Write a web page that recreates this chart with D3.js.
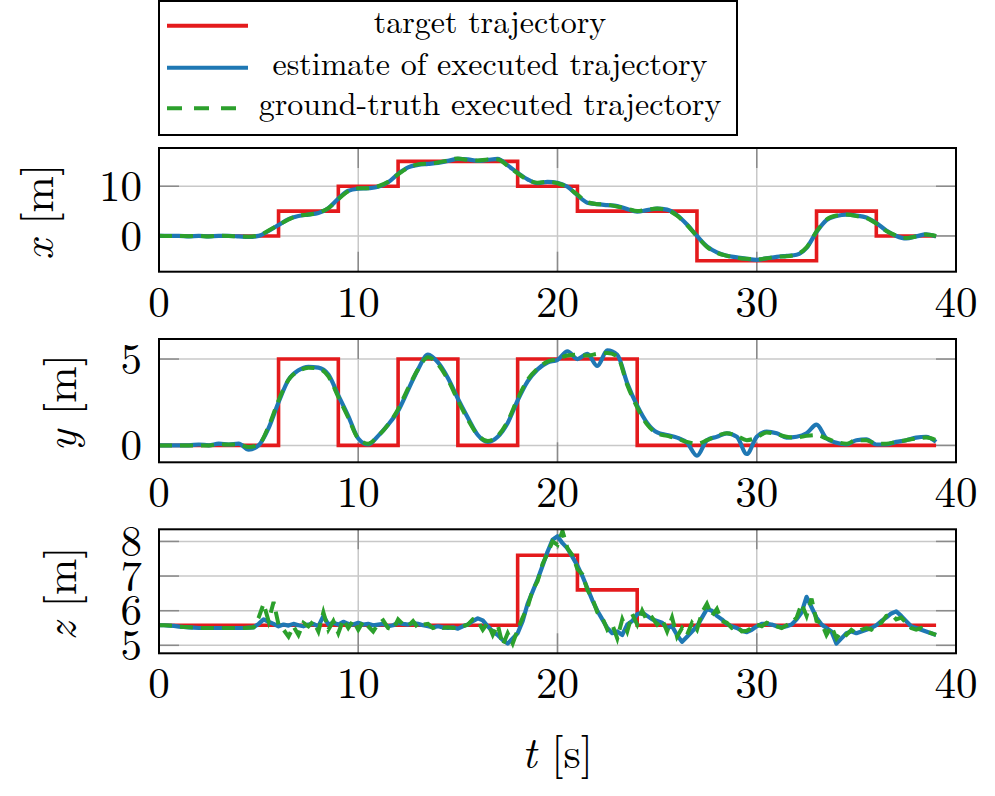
<!DOCTYPE html>
<html><head><meta charset="utf-8">
<script src="https://cdn.jsdelivr.net/npm/d3@7"></script>
<style>body{margin:0;background:#fff} svg{display:block}</style>
</head><body>
<svg id="c" width="995" height="796"></svg>
<script>
// ---------- data ----------
const timeTicks = [0, 10, 20, 30, 40];
const legendLabels = ["target trajectory", "estimate of executed trajectory", "ground-truth executed trajectory"];

// target trajectories (step changes: time, value)
const targetXTimes = [0, 6, 9, 12, 18, 21, 27, 33, 36, 39];
const targetXVals  = [0, 5, 10, 15, 10, 5, -5, 5, 0, 0];
const targetYTimes = [0, 6, 9, 12, 15, 18, 24, 39];
const targetYVals  = [0, 5, 0, 5, 0, 5, 0, 0];
const targetZTimes = [0, 18, 21, 24, 39];
const targetZVals  = [5.58, 7.6, 6.6, 5.58, 5.58];

// x, y sampled every 0.5 s from 0 to 39 s
const estX = [0,0,0,-0.1,0,-0.1,0,0,-0.1,-0.2,
  0,1.0,2.2,3.4,4.0,4.3,4.6,5.6,7.5,9.1,
  9.5,9.6,9.9,10.8,12.5,13.8,14.3,14.5,14.7,15.1,
  15.5,15.4,15.1,15.3,15.5,14.2,12.7,11.4,10.6,10.9,
  10.7,9.9,8.2,6.7,6.4,6.2,6.0,5.4,4.9,5.2,
  5.5,5.3,4.2,2.3,0.0,-2.1,-3.3,-4.0,-4.3,-4.6,
  -4.8,-4.5,-4.2,-4.0,-3.8,-2.4,0.8,3.2,4.0,4.3,
  4.1,3.7,2.6,1.1,0.0,-0.5,-0.1,0.3,-0.1];
const gtX = [0.05,0,0,-0.05,0,-0.1,0.05,0,-0.1,-0.15,
  0.1,1.1,2.2,3.3,4.1,4.3,4.7,5.6,7.4,9.0,
  9.6,9.6,10.0,10.9,12.4,13.7,14.4,14.6,14.8,15.2,
  15.6,15.3,15.2,15.4,15.4,14.1,12.6,11.3,10.7,10.9,
  10.6,9.8,8.3,6.8,6.4,6.3,5.9,5.5,5.0,5.3,
  5.5,5.2,4.1,2.2,-0.1,-2.2,-3.4,-4.0,-4.4,-4.6,
  -4.7,-4.5,-4.2,-4.1,-3.7,-2.3,0.9,3.3,4.1,4.3,
  4.0,3.6,2.5,1.0,0.1,-0.4,-0.1,0.3,0.0];

const estY = [0,0,0,0,0.05,0,0.1,0.05,0.1,-0.25,
  0.0,1.0,2.5,3.8,4.35,4.55,4.5,4.1,2.9,1.7,
  0.4,0.05,0.55,1.2,2.0,3.2,4.4,5.25,4.8,3.9,
  2.7,1.6,0.6,0.2,0.5,1.3,2.6,3.7,4.4,4.8,
  4.95,5.45,5.0,5.3,4.6,5.5,5.25,3.6,2.3,1.3,
  0.75,0.6,0.45,0.15,-0.6,0.3,0.5,0.7,0.5,-0.5,
  0.5,0.8,0.7,0.45,0.5,0.7,1.2,0.4,0.15,0.05,
  0.3,0.35,0.05,0.05,0.2,0.3,0.45,0.5,0.2];
const gtY = [0,0,0,0,0,0,0.05,0.05,0.05,-0.1,
  0.05,1.1,2.6,3.8,4.3,4.5,4.45,4.0,2.8,1.6,
  0.4,0.1,0.55,1.2,2.1,3.3,4.4,5.1,4.7,3.8,
  2.6,1.5,0.6,0.25,0.55,1.4,2.7,3.8,4.45,4.85,
  5.0,5.2,5.25,5.2,5.3,5.35,5.15,3.5,2.2,1.2,
  0.7,0.55,0.4,0.2,0.1,0.3,0.55,0.7,0.55,0.3,
  0.45,0.75,0.65,0.5,0.45,0.55,0.6,0.4,0.2,0.1,
  0.3,0.3,0.1,0.1,0.2,0.3,0.4,0.45,0.3];

// z sampled every 0.25 s from 0 to 39 s
const estZ = [5.58,5.58,5.57,5.56,5.54,5.53,5.52,5.51,5.5,5.5,5.5,5.5,5.5,5.5,5.5,5.5,5.5,5.5,5.51,5.52,
  5.62,5.75,5.68,5.62,5.55,5.6,5.57,5.62,5.58,5.55,5.6,5.62,5.55,5.85,5.6,5.65,5.6,5.68,5.62,5.6,
  5.65,5.6,5.62,5.58,5.6,5.62,5.55,5.58,5.65,5.62,5.6,5.64,5.62,5.58,5.55,5.52,5.55,5.52,5.5,5.52,
  5.48,5.55,5.6,5.7,5.78,5.72,5.55,5.4,5.3,5.15,5.05,5.2,5.35,5.7,6.2,6.55,6.9,7.3,7.7,8.05,
  8.15,7.95,7.8,7.55,7.3,7.0,6.65,6.3,6.0,5.75,5.5,5.35,5.4,5.3,5.6,5.7,5.9,5.95,5.85,5.75,
  5.7,5.65,5.5,5.55,5.3,5.1,5.25,5.4,5.55,5.8,6.05,6.0,5.85,5.75,5.62,5.55,5.5,5.42,5.38,5.45,
  5.55,5.62,5.62,5.6,5.55,5.52,5.55,5.6,5.75,5.95,6.4,6.1,5.8,5.6,5.5,5.4,5.05,5.2,5.35,5.4,
  5.35,5.4,5.45,5.5,5.58,5.7,5.8,5.92,5.98,5.85,5.7,5.55,5.5,5.45,5.4,5.35,5.3];
const gtZ = [5.58,5.58,5.57,5.56,5.54,5.53,5.52,5.51,5.5,5.5,5.5,5.5,5.5,5.5,5.5,5.5,5.5,5.5,5.51,5.52,
  5.8,6.2,5.7,6.25,5.6,5.45,5.25,5.55,5.3,5.65,5.55,5.7,5.4,5.95,5.45,5.7,5.35,5.75,5.5,5.72,
  5.45,5.7,5.55,5.4,5.62,5.72,5.5,5.45,5.75,5.6,5.55,5.7,5.5,5.6,5.62,5.5,5.55,5.5,5.52,5.5,
  5.5,5.55,5.6,5.75,5.7,5.45,5.65,5.3,5.6,5.0,5.35,5.05,5.45,5.8,6.1,6.6,6.85,7.35,7.65,8.0,
  7.9,8.3,7.8,7.6,7.2,7.05,6.6,6.35,5.95,5.8,5.45,5.6,5.2,5.75,5.4,5.9,5.6,6.0,5.7,5.8,
  5.6,5.75,5.4,5.8,5.25,5.5,5.3,5.65,5.45,5.95,6.2,5.85,6.05,5.7,5.65,5.5,5.55,5.4,5.42,5.5,
  5.6,5.55,5.65,5.6,5.55,5.5,5.58,5.65,5.8,6.2,5.85,6.35,5.7,5.65,5.3,5.55,5.2,5.4,5.3,5.45,
  5.35,5.45,5.5,5.45,5.6,5.65,5.85,5.9,5.75,5.8,5.65,5.5,5.45,5.5,5.4,5.35,5.3];

const yTicksX = [0, 10];
const yTicksY = [0, 5];
const yTicksZ = [5, 6, 7, 8];

// ---------- drawing ----------
const t05 = d3.range(0, 39.001, 0.5);
const t025 = d3.range(0, 39.001, 0.25);
const zip = (ts, vs) => ts.map((t, i) => [t, vs[i]]);

const svg = d3.select("#c");
const FONT = '"Latin Modern Roman", "Liberation Serif", serif';
const left = 159, right = 956;
const xScale = d3.scaleLinear().domain([0, 40]).range([left, right]);

const panels = [
  {top: 148, bottom: 271.7, dom: [-7.2, 17.7], ticks: yTicksX, sym: "x", labX: 40,
   target: zip(targetXTimes, targetXVals), est: zip(t05, estX), gt: zip(t05, gtX), curve: d3.curveMonotoneX},
  {top: 339, bottom: 462.3, dom: [-0.98, 6.16], ticks: yTicksY, sym: "y", labX: 63,
   target: zip(targetYTimes, targetYVals), est: zip(t05, estY), gt: zip(t05, gtY), curve: d3.curveMonotoneX},
  {top: 529.3, bottom: 653.3, dom: [4.77, 8.35], ticks: yTicksZ, sym: "z", labX: 63,
   target: zip(targetZTimes, targetZVals), est: zip(t025, estZ), gt: zip(t025, gtZ), curve: d3.curveLinear}
];

const RED = "#e41a1c", BLUE = "#1f78b4", GREEN = "#2ca02c";

panels.forEach((p, i) => {
  const y = d3.scaleLinear().domain(p.dom).range([p.bottom, p.top]);
  const g = svg.append("g");
  const cid = "clip" + i;
  svg.append("clipPath").attr("id", cid).append("rect")
    .attr("x", left).attr("y", p.top).attr("width", right - left).attr("height", p.bottom - p.top);

  // grid
  const inner = timeTicks.filter(t => t > 0 && t < 40);
  g.selectAll(".vg").data(inner).enter().append("line")
    .attr("x1", d => xScale(d)).attr("x2", d => xScale(d)).attr("y1", p.top).attr("y2", p.bottom)
    .attr("stroke", "#c8c8c8").attr("stroke-width", 1.5);
  g.selectAll(".hg").data(p.ticks).enter().append("line")
    .attr("x1", left).attr("x2", right).attr("y1", d => y(d)).attr("y2", d => y(d))
    .attr("stroke", "#c8c8c8").attr("stroke-width", 1.5);

  // tick marks (inside, both sides)
  const tl = 20;
  inner.forEach(t => {
    [[p.top, p.top + tl], [p.bottom, p.bottom - tl]].forEach(([a, b]) =>
      g.append("line").attr("x1", xScale(t)).attr("x2", xScale(t)).attr("y1", a).attr("y2", b)
        .attr("stroke", "#8a8a8a").attr("stroke-width", 1.5));
  });
  p.ticks.forEach(v => {
    [[left, left + tl], [right, right - tl]].forEach(([a, b]) =>
      g.append("line").attr("x1", a).attr("x2", b).attr("y1", y(v)).attr("y2", y(v))
        .attr("stroke", "#8a8a8a").attr("stroke-width", 1.5));
  });

  // data lines
  const dg = g.append("g").attr("clip-path", `url(#${cid})`);
  dg.append("path").datum(p.target)
    .attr("d", d3.line().x(d => xScale(d[0])).y(d => y(d[1])).curve(d3.curveStepAfter))
    .attr("fill", "none").attr("stroke", RED).attr("stroke-width", 3.6);
  const ln = d3.line().x(d => xScale(d[0])).y(d => y(d[1])).curve(p.curve);
  dg.append("path").datum(p.est).attr("d", ln)
    .attr("fill", "none").attr("stroke", BLUE).attr("stroke-width", 4.2).attr("stroke-linejoin", "round");
  dg.append("path").datum(p.gt).attr("d", ln)
    .attr("fill", "none").attr("stroke", GREEN).attr("stroke-width", 4).attr("stroke-dasharray", "13,8");

  // frame
  g.append("rect").attr("x", left).attr("y", p.top).attr("width", right - left).attr("height", p.bottom - p.top)
    .attr("fill", "none").attr("stroke", "#000").attr("stroke-width", 2);

  // x tick labels
  g.selectAll(".xl").data(timeTicks).enter().append("text")
    .attr("x", d => xScale(d)).attr("y", p.bottom + 45)
    .attr("text-anchor", "middle").style("font-family", FONT).style("font-size", "43px")
    .text(d => d);
  // y tick labels
  g.selectAll(".yl").data(p.ticks).enter().append("text")
    .attr("x", 142).attr("y", d => y(d)).attr("dy", "0.34em")
    .attr("text-anchor", "end").style("font-family", FONT).style("font-size", "43px")
    .text(d => d);
  // y axis label
  const cy = (p.top + p.bottom) / 2 + 2;
  const lab = g.append("text").attr("transform", `translate(${p.labX},${cy}) rotate(-90)`)
    .attr("text-anchor", "middle").attr("dy", "0.3em").style("font-family", FONT).style("font-size", "44px");
  lab.append("tspan").style("font-style", "italic").text(p.sym);
  lab.append("tspan").text(" [m]");
});

// x axis label
const xl = svg.append("text").attr("x", (left + right) / 2).attr("y", 768)
  .attr("text-anchor", "middle").style("font-family", FONT).style("font-size", "44px");
xl.append("tspan").style("font-style", "italic").text("t");
xl.append("tspan").text(" [s]");

// legend
const lg = svg.append("g");
lg.append("rect").attr("x", 159).attr("y", 1).attr("width", 578).attr("height", 134)
  .attr("fill", "#fff").attr("stroke", "#000").attr("stroke-width", 2);
const rowsY = [25.7, 67.7, 108.3];
const styles = [
  {c: RED, dash: null, x2: 248}, {c: BLUE, dash: null, x2: 248}, {c: GREEN, dash: "15,12", x2: 238}
];
legendLabels.forEach((txt, i) => {
  const l = lg.append("line").attr("x1", 167).attr("x2", styles[i].x2).attr("y1", rowsY[i]).attr("y2", rowsY[i])
    .attr("stroke", styles[i].c).attr("stroke-width", 4);
  if (styles[i].dash) l.attr("stroke-dasharray", styles[i].dash);
  lg.append("text").attr("x", 490).attr("y", rowsY[i] + 7)
    .attr("text-anchor", "middle").style("font-family", FONT).style("font-size", "32px").text(txt);
});
</script>
</body></html>
